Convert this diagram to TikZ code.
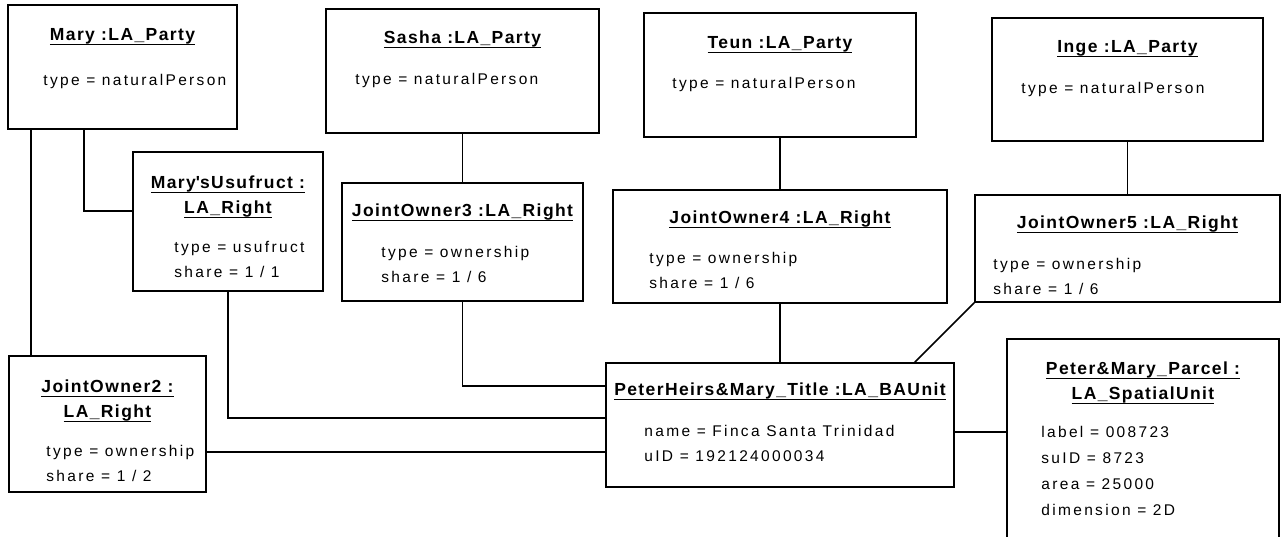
\documentclass[tikz,border=0pt]{standalone}
\usepackage{fontspec}
\setmainfont{Liberation Sans}
\newfontfamily\objfont[LetterSpace=8]{Liberation Sans Bold}
\newfontfamily\attfont[LetterSpace=15]{Liberation Sans}
\usetikzlibrary{positioning}
\newcommand\objname[1]{\setbox0\hbox{#1}\rlap{\rule[-5pt]{\wd0}{1.6pt}}\box0}
\tikzset{obj/.style={draw,line width=1.6pt,inner sep=0pt},
  otitle/.style={anchor=base,align=center,inner sep=0pt,font=\objfont\fontsize{17.5}{25}\selectfont},
  oattr/.style={anchor=base west,align=left,inner sep=0pt,font=\attfont\fontsize{15.5}{25}\selectfont},
  link/.style={line width=1.6pt}}

\begin{document}
\begin{tikzpicture}[x=1pt,y=-1pt]
\clip (0,0) rectangle (1286,536);
% parties
\node[obj,minimum width=229pt,minimum height=124pt] (mary) at (122.5,67) {};
\node[obj,minimum width=273pt,minimum height=124pt] (sasha) at (462.5,71) {};
\node[obj,minimum width=272pt,minimum height=124pt] (teun) at (780,75) {};
\node[obj,minimum width=271pt,minimum height=123pt] (inge) at (1127.5,79.5) {};
\node[otitle] (maryT) at ([yshift=-36pt]mary.north) {\objname{Mary :LA\_Party}};
\node[otitle] (sashaT) at ([yshift=-35pt]sasha.north) {\objname{Sasha :LA\_Party}};
\node[otitle] (teunT) at ([yshift=-36pt]teun.north) {\objname{Teun :LA\_Party}};
\node[otitle] (ingeT) at ([yshift=-35pt]inge.north) {\objname{Inge :LA\_Party}};
\node[oattr] (maryA) at ([xshift=36pt,yshift=-81.5pt]mary.north west) {type = naturalPerson};
\node[oattr] (sashaA) at ([xshift=30pt,yshift=-76pt]sasha.north west) {type = naturalPerson};
\node[oattr] (teunA) at ([xshift=29pt,yshift=-76pt]teun.north west) {type = naturalPerson};
\node[oattr] (ingeA) at ([xshift=30pt,yshift=-76pt]inge.north west) {type = naturalPerson};
% rights (base anchor sits on the last line)
\node[obj,minimum width=190pt,minimum height=139pt] (usufruct) at (228,221.5) {};
\node[obj,minimum width=197pt,minimum height=136pt] (jo2) at (107.5,424) {};
\node[obj,minimum width=241pt,minimum height=118pt] (jo3) at (462.5,242) {};
\node[obj,minimum width=334pt,minimum height=113pt] (jo4) at (780,246.5) {};
\node[obj,minimum width=305pt,minimum height=107pt] (jo5) at (1127.5,248.5) {};
\node[otitle] (usufructT) at ([yshift=-62pt]usufruct.north) {\objname{Mary\textquotesingle sUsufruct :}\\\objname{LA\_Right}};
\node[otitle] (jo2T) at ([yshift=-62pt]jo2.north) {\objname{JointOwner2 :}\\\objname{LA\_Right}};
\node[otitle] (jo3T) at ([yshift=-34pt]jo3.north) {\objname{JointOwner3 :LA\_Right}};
\node[otitle] (jo4T) at ([yshift=-34pt]jo4.north) {\objname{JointOwner4 :LA\_Right}};
\node[otitle] (jo5T) at ([yshift=-34pt]jo5.north) {\objname{JointOwner5 :LA\_Right}};
\node[oattr] (usufructA) at ([xshift=42pt,yshift=-126.5pt]usufruct.north west) {type = usufruct\\share = 1 / 1};
\node[oattr] (jo2A) at ([xshift=38pt,yshift=-126.5pt]jo2.north west) {type = ownership\\share = 1 / 2};
\node[oattr] (jo3A) at ([xshift=40pt,yshift=-100.5pt]jo3.north west) {type = ownership\\share = 1 / 6};
\node[oattr] (jo4A) at ([xshift=37pt,yshift=-99.5pt]jo4.north west) {type = ownership\\share = 1 / 6};
\node[oattr] (jo5A) at ([xshift=19pt,yshift=-100.5pt]jo5.north west) {type = ownership\\share = 1 / 6};
% basic administrative unit and parcel
\node[obj,minimum width=348pt,minimum height=124pt] (ba) at (780,425) {};
\node[obj,minimum width=272pt,minimum height=221pt] (parcel) at (1143,449.5) {};
\node[otitle] (baT) at ([yshift=-33pt]ba.north) {\objname{PeterHeirs\&Mary\_Title :LA\_BAUnit}};
\node[otitle] (parcelT) at ([yshift=-61pt]parcel.north) {\objname{Peter\&Mary\_Parcel :}\\\objname{LA\_SpatialUnit}};
\node[oattr] (baA) at ([xshift=39pt,yshift=-99.5pt]ba.north west) {name = Finca Santa Trinidad\\uID = 192124000034};
\node[oattr,font=\attfont\fontsize{15.5}{26}\selectfont] (parcelA) at ([xshift=35pt,yshift=-177.5pt]parcel.north west) {label = 008723\\suID = 8723\\area = 25000\\dimension = 2D};
% links
\draw[link] ([xshift=24pt]mary.south west) -- ([xshift=23pt]jo2.north west);
\draw[link] ([xshift=77pt]mary.south west) |- ([yshift=10.5pt]usufruct.west);
\draw[link] (usufruct.south) |- ([yshift=7pt]ba.west);
\draw[link] (sasha.south) -- (jo3.north);
\draw[link] (jo3.south) |- ([yshift=39pt]ba.west);
\draw[link] (teun.south) -- (jo4.north);
\draw[link] (jo4.south) -- (ba.north);
\draw[link] (inge.south) -- (jo5.north);
\draw[link] (jo5.south west) -- ([xshift=-40pt]ba.north east);
\draw[link] ([yshift=-28pt]jo2.east) -- ([yshift=-27pt]ba.west);
\draw[link] ([yshift=-7pt]ba.east) -- ([yshift=17.5pt]parcel.west);
\end{tikzpicture}
\end{document}
